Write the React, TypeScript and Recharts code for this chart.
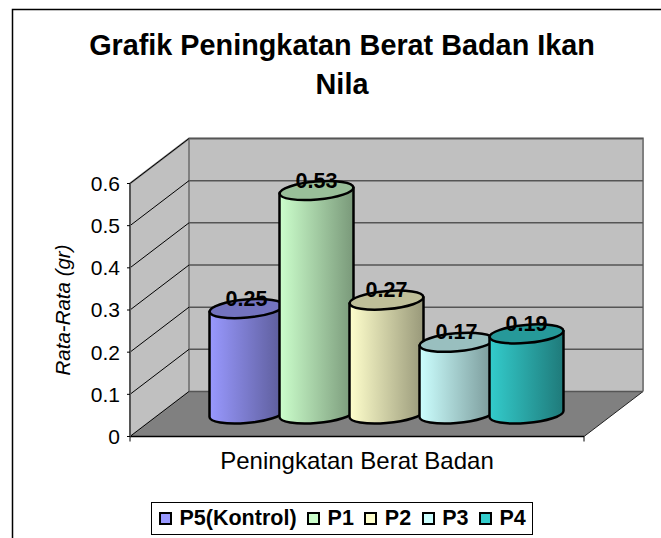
import { Bar, BarChart, CartesianGrid, LabelList, Legend, ReferenceArea, XAxis, YAxis } from "recharts";

const categories = ["Peningkatan Berat Badan"];
const seriesNames = ["P5(Kontrol)", "P1", "P2", "P3", "P4"];
const seriesValues = [0.25, 0.53, 0.27, 0.17, 0.19];
const seriesColors = ["#9999FF", "#CCFFCC", "#FFFFCC", "#CCFFFF", "#33CCCC"];
const yTicks = [0, 0.1, 0.2, 0.3, 0.4, 0.5, 0.6];
const titleLines = ["Grafik Peningkatan Berat Badan Ikan", "Nila"];

const FONT = "'Liberation Sans', Arial, sans-serif";
// fake 3d depth of the floor, bars stand halfway in
const DX = 59;
const DY = -45;

const row: Record<string, string | number> = { name: categories[0] };
seriesNames.forEach((n, i) => {
  row[n] = seriesValues[i];
});
const data = [row];

function shade(hex: string, f: number) {
  const n = parseInt(hex.slice(1), 16);
  const c = (s: number) => Math.round(((n >> s) & 255) * f);
  return `rgb(${c(16)},${c(8)},${c(0)})`;
}

function Walls({ x, y, width, height }: any) {
  const bottom = y + height;
  const right = x + width;
  return (
    <g>
      <polygon points={`${x},${y} ${x + DX},${y + DY} ${x + DX},${bottom + DY} ${x},${bottom}`} fill="#c0c0c0" />
      <rect x={x + DX} y={y + DY} width={width} height={height} fill="#c0c0c0" />
      <polygon points={`${x},${bottom} ${right},${bottom} ${right + DX},${bottom + DY} ${x + DX},${bottom + DY}`} fill="#808080" />
      <polyline
        points={`${x},${y} ${x + DX},${y + DY} ${right + DX},${y + DY} ${right + DX},${bottom + DY}`}
        fill="none"
        stroke="#808080"
        strokeWidth={2}
      />
      <line x1={x + DX} y1={y + DY} x2={x + DX} y2={bottom + DY} stroke="#808080" strokeWidth={2} />
      <line x1={x} y1={bottom} x2={x + DX} y2={bottom + DY} stroke="#999" strokeWidth={1.5} />
      <line x1={right} y1={bottom} x2={right + DX} y2={bottom + DY} stroke="#222" strokeWidth={1} />
      <line x1={x} y1={bottom} x2={x} y2={bottom + 5} stroke="#000" />
      <line x1={right} y1={bottom} x2={right} y2={bottom + 5} stroke="#000" />
      {/* chart frame and title */}
      <polyline points="12.5,538 12.5,9.5 661,9.5" fill="none" stroke="#000" strokeWidth={1.5} />
      {titleLines.map((t, i) => (
        <text key={t} x={342} y={55 + i * 39} textAnchor="middle" fontFamily={FONT} fontWeight="bold" fontSize={28.8} fill="#000">
          {t}
        </text>
      ))}
    </g>
  );
}

function GridRow({ x1, y1, x2, y2 }: any) {
  return (
    <g>
      <line x1={x1} y1={y1} x2={x1 + DX} y2={y1 + DY} stroke="#000" strokeWidth={1} />
      <line x1={x1 + DX} y1={y1 + DY} x2={x2 + DX} y2={y2 + DY} stroke="#555" strokeWidth={1.5} />
    </g>
  );
}

function Cylinder({ x, y, width, height, fill, index, name }: any) {
  const i = seriesNames.indexOf(name);
  const id = `cyl-${i}-${index}`;
  const a = width / 2;
  const cx = x + a + DX / 2;
  const top = y + DY / 2;
  const bot = y + height + DY / 2;
  const tilt = 3;
  const body = `M${cx - a},${top + tilt} L${cx - a},${bot + tilt} A${a},9 -5 0 0 ${cx + a},${bot - tilt} L${cx + a},${top - tilt} Z`;
  return (
    <g>
      <defs>
        <linearGradient id={id} x1="0" y1="0" x2="1" y2="0">
          <stop offset="0%" stopColor={fill} />
          <stop offset="100%" stopColor={shade(fill, 0.6)} />
        </linearGradient>
      </defs>
      <path d={body} fill={`url(#${id})`} stroke="#000" strokeWidth={2.5} strokeLinejoin="round" />
      <ellipse
        cx={cx}
        cy={top}
        rx={a}
        ry={9}
        transform={`rotate(-5 ${cx} ${top})`}
        fill={shade(fill, 0.75)}
        stroke="#000"
        strokeWidth={2.5}
      />
    </g>
  );
}

function ValueLabel({ x, y, width, value }: any) {
  return (
    <text
      x={x + width / 2 + DX / 2}
      y={y + DY / 2 - 10}
      textAnchor="middle"
      dominantBaseline="central"
      fontFamily={FONT}
      fontWeight="bold"
      fontSize={21.5}
      fill="#000"
    >
      {value}
    </text>
  );
}

function LegendBox({ payload }: any) {
  return (
    <div
      style={{
        display: "flex",
        alignItems: "center",
        boxSizing: "border-box",
        width: 382,
        height: 33,
        paddingLeft: 7,
        background: "#fff",
        border: "1px solid #000",
        fontFamily: FONT,
        fontWeight: "bold",
        fontSize: 21.5,
        color: "#000",
      }}
    >
      {(payload || []).map((p: any) => (
        <span key={p.value} style={{ display: "flex", alignItems: "center", marginRight: 10.5 }}>
          <span
            style={{
              display: "inline-block",
              boxSizing: "border-box",
              width: 13,
              height: 13,
              marginRight: 7.5,
              background: p.color,
              border: "2px solid #000",
            }}
          />
          {p.value}
        </span>
      ))}
    </div>
  );
}

export default function App() {
  return (
    <div style={{ position: "absolute", left: 0, top: 0 }}>
      <BarChart
        width={661}
        height={538}
        data={data}
        barSize={74}
        barGap={-4}
        margin={{ top: 183.5, right: 77, bottom: 51.5, left: 0 }}
      >
        <ReferenceArea y1={0} y2={0.6} shape={Walls} ifOverflow="visible" fill="none" stroke="none" zIndex={-200} />
        <CartesianGrid vertical={false} horizontal={GridRow} zIndex={-100} />
        <XAxis
          dataKey="name"
          height={50}
          tickLine={false}
          tickMargin={9}
          axisLine={{ stroke: "#000", strokeWidth: 1.5 }}
          tick={{ fill: "#000", fontSize: 24, fontFamily: FONT }}
        />
        <YAxis
          width={130}
          domain={[0, 0.6]}
          ticks={yTicks}
          interval={0}
          tickSize={3}
          tickMargin={7}
          axisLine={{ stroke: "#555", strokeWidth: 2 }}
          tickLine={{ stroke: "#000" }}
          tick={{ fill: "#000", fontSize: 21, fontFamily: FONT }}
          label={{
            value: "Rata-Rata (gr)",
            angle: -90,
            position: "center",
            dx: -2,
            style: { fontSize: 20.5, fontStyle: "italic", fontFamily: FONT, fill: "#000" },
          }}
        />
        <Legend
          layout="horizontal"
          verticalAlign="middle"
          align="center"
          itemSorter={null}
          content={<LegendBox />}
          wrapperStyle={{ left: 151, top: 502, width: 382, height: 33 }}
        />
        {seriesNames.map((n, i) => (
          <Bar key={n} dataKey={n} name={n} fill={seriesColors[i]} shape={<Cylinder name={n} />} isAnimationActive={false}>
            <LabelList dataKey={n} content={<ValueLabel />} />
          </Bar>
        ))}
      </BarChart>
    </div>
  );
}
